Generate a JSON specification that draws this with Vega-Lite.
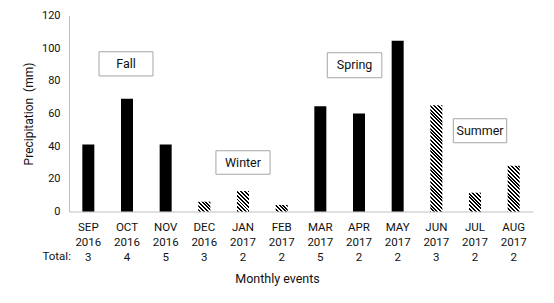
{
  "$schema": "https://vega.github.io/schema/vega-lite/v6.json",
  "width": 464,
  "height": 196,
  "autosize": {"type": "none"},
  "padding": {"left": 69, "top": 15.5, "right": 21, "bottom": 91.5},
  "background": "#ffffff",
  "config": {
    "font": "Roboto",
    "view": {"stroke": null},
    "axis": {"labelColor": "#111111", "titleColor": "#111111", "domainColor": "#bfbfbf", "domainWidth": 1, "grid": false, "ticks": false, "tickSize": 0, "titleFontWeight": "normal"}
  },
  "datasets": {
    "bars": [
      {"cat": "SEP|2016|3", "m": "SEP", "v": 41},
      {"cat": "OCT|2016|4", "m": "OCT", "v": 69},
      {"cat": "NOV|2016|5", "m": "NOV", "v": 41},
      {"cat": "DEC|2016|3", "m": "DEC", "v": 6},
      {"cat": "JAN|2017|2", "m": "JAN", "v": 12.5},
      {"cat": "FEB|2017|2", "m": "FEB", "v": 4},
      {"cat": "MAR|2017|5", "m": "MAR", "v": 64.5},
      {"cat": "APR|2017|2", "m": "APR", "v": 60},
      {"cat": "MAY|2017|2", "m": "MAY", "v": 104.5},
      {"cat": "JUN|2017|3", "m": "JUN", "v": 65},
      {"cat": "JUL|2017|2", "m": "JUL", "v": 11.5},
      {"cat": "AUG|2017|2", "m": "AUG", "v": 28}
    ],
    "boxes": [
      {"label": "Fall", "x1": 0.776, "x2": 2.172, "y1": 83.0, "y2": 97.8, "xc": 1.474, "yc": 90.4},
      {"label": "Winter", "x1": 3.8, "x2": 5.2, "y1": 22.8, "y2": 37.2, "xc": 4.5, "yc": 30.0},
      {"label": "Spring", "x1": 6.68, "x2": 8.09, "y1": 81.9, "y2": 97.2, "xc": 7.385, "yc": 89.55},
      {"label": "Summer", "x1": 9.94, "x2": 11.32, "y1": 42.1, "y2": 56.8, "xc": 10.63, "yc": 49.45}
    ],
    "totals": [{"t": "Total:"}]
  },
  "resolve": {"scale": {"x": "independent"}},
  "layer": [
    {
      "data": {"name": "bars"},
      "mark": {"type": "bar", "width": 12},
      "encoding": {
        "x": {
          "field": "cat", "type": "nominal", "sort": null,
          "axis": {"title": "Monthly events", "labelExpr": "split(datum.value, '|')", "labelAngle": 0, "labelLineHeight": 15, "labelFontSize": 11.5, "labelPadding": 10, "labelOverlap": false, "labelBound": false, "titleFontSize": 12.5, "titleX": 208, "titleY": 67, "titleBaseline": "middle", "titleAlign": "center"}
        },
        "y": {
          "field": "v", "type": "quantitative",
          "scale": {"domain": [0, 120], "nice": false},
          "axis": {"title": "Precipitation\u00a0 (mm)", "values": [0, 20, 40, 60, 80, 100, 120], "labelOverlap": false, "labelFontSize": 11, "labelPadding": 9, "titleFontSize": 12, "titlePadding": 6}
        },
        "fill": {
          "condition": [
            {"test": "datum.m === 'DEC'", "value": {"gradient": "linear", "x1": 1, "y1": 0, "x2": -0.8997, "y2": 1.5514, "stops": [{"offset":0,"color":"#000"},{"offset":0.05,"color":"#000"},{"offset":0.05,"color":"#fff"},{"offset":0.1,"color":"#fff"},{"offset":0.1,"color":"#000"},{"offset":0.15,"color":"#000"},{"offset":0.15,"color":"#fff"},{"offset":0.2,"color":"#fff"},{"offset":0.2,"color":"#000"},{"offset":0.25,"color":"#000"},{"offset":0.25,"color":"#fff"},{"offset":0.3,"color":"#fff"},{"offset":0.3,"color":"#000"},{"offset":0.35,"color":"#000"},{"offset":0.35,"color":"#fff"},{"offset":0.4,"color":"#fff"},{"offset":0.4,"color":"#000"},{"offset":0.45,"color":"#000"},{"offset":0.45,"color":"#fff"},{"offset":0.5,"color":"#fff"},{"offset":0.5,"color":"#000"},{"offset":0.55,"color":"#000"},{"offset":0.55,"color":"#fff"},{"offset":0.6,"color":"#fff"},{"offset":0.6,"color":"#000"},{"offset":0.65,"color":"#000"},{"offset":0.65,"color":"#fff"},{"offset":0.7,"color":"#fff"}]}},
            {"test": "datum.m === 'JAN'", "value": {"gradient": "linear", "x1": 1, "y1": 0, "x2": 0.18594, "y2": 1.3839, "stops": [{"offset":0,"color":"#000"},{"offset":0.05,"color":"#000"},{"offset":0.05,"color":"#fff"},{"offset":0.1,"color":"#fff"},{"offset":0.1,"color":"#000"},{"offset":0.15,"color":"#000"},{"offset":0.15,"color":"#fff"},{"offset":0.2,"color":"#fff"},{"offset":0.2,"color":"#000"},{"offset":0.25,"color":"#000"},{"offset":0.25,"color":"#fff"},{"offset":0.3,"color":"#fff"},{"offset":0.3,"color":"#000"},{"offset":0.35,"color":"#000"},{"offset":0.35,"color":"#fff"},{"offset":0.4,"color":"#fff"},{"offset":0.4,"color":"#000"},{"offset":0.45,"color":"#000"},{"offset":0.45,"color":"#fff"},{"offset":0.5,"color":"#fff"},{"offset":0.5,"color":"#000"},{"offset":0.55,"color":"#000"},{"offset":0.55,"color":"#fff"},{"offset":0.6,"color":"#fff"},{"offset":0.6,"color":"#000"},{"offset":0.65,"color":"#000"},{"offset":0.65,"color":"#fff"},{"offset":0.7,"color":"#fff"},{"offset":0.7,"color":"#000"},{"offset":0.75,"color":"#000"},{"offset":0.75,"color":"#fff"},{"offset":0.8,"color":"#fff"},{"offset":0.8,"color":"#000"},{"offset":0.85,"color":"#000"},{"offset":0.85,"color":"#fff"},{"offset":0.9,"color":"#fff"},{"offset":0.9,"color":"#000"},{"offset":0.95,"color":"#000"},{"offset":0.95,"color":"#fff"},{"offset":1,"color":"#fff"}]}},
            {"test": "datum.m === 'FEB'", "value": {"gradient": "linear", "x1": 1, "y1": 0, "x2": -1.44832, "y2": 1.32617, "stops": [{"offset":0,"color":"#000"},{"offset":0.05,"color":"#000"},{"offset":0.05,"color":"#fff"},{"offset":0.1,"color":"#fff"},{"offset":0.1,"color":"#000"},{"offset":0.15,"color":"#000"},{"offset":0.15,"color":"#fff"},{"offset":0.2,"color":"#fff"},{"offset":0.2,"color":"#000"},{"offset":0.25,"color":"#000"},{"offset":0.25,"color":"#fff"},{"offset":0.3,"color":"#fff"},{"offset":0.3,"color":"#000"},{"offset":0.35,"color":"#000"},{"offset":0.35,"color":"#fff"},{"offset":0.4,"color":"#fff"},{"offset":0.4,"color":"#000"},{"offset":0.45,"color":"#000"},{"offset":0.45,"color":"#fff"},{"offset":0.5,"color":"#fff"},{"offset":0.5,"color":"#000"},{"offset":0.55,"color":"#000"},{"offset":0.55,"color":"#fff"},{"offset":0.6,"color":"#fff"}]}},
            {"test": "datum.m === 'JUL'", "value": {"gradient": "linear", "x1": 1, "y1": 0, "x2": 0.08331, "y2": 1.43615, "stops": [{"offset":0,"color":"#000"},{"offset":0.05,"color":"#000"},{"offset":0.05,"color":"#fff"},{"offset":0.1,"color":"#fff"},{"offset":0.1,"color":"#000"},{"offset":0.15,"color":"#000"},{"offset":0.15,"color":"#fff"},{"offset":0.2,"color":"#fff"},{"offset":0.2,"color":"#000"},{"offset":0.25,"color":"#000"},{"offset":0.25,"color":"#fff"},{"offset":0.3,"color":"#fff"},{"offset":0.3,"color":"#000"},{"offset":0.35,"color":"#000"},{"offset":0.35,"color":"#fff"},{"offset":0.4,"color":"#fff"},{"offset":0.4,"color":"#000"},{"offset":0.45,"color":"#000"},{"offset":0.45,"color":"#fff"},{"offset":0.5,"color":"#fff"},{"offset":0.5,"color":"#000"},{"offset":0.55,"color":"#000"},{"offset":0.55,"color":"#fff"},{"offset":0.6,"color":"#fff"},{"offset":0.6,"color":"#000"},{"offset":0.65,"color":"#000"},{"offset":0.65,"color":"#fff"},{"offset":0.7,"color":"#fff"},{"offset":0.7,"color":"#000"},{"offset":0.75,"color":"#000"},{"offset":0.75,"color":"#fff"},{"offset":0.8,"color":"#fff"},{"offset":0.8,"color":"#000"},{"offset":0.85,"color":"#000"},{"offset":0.85,"color":"#fff"},{"offset":0.9,"color":"#fff"}]}},
            {"test": "datum.m === 'AUG'", "value": {"gradient": "linear", "x1": 1, "y1": 0, "x2": 0.59149, "y2": 1.55575, "stops": [{"offset":0,"color":"#000"},{"offset":0.025,"color":"#000"},{"offset":0.025,"color":"#fff"},{"offset":0.05,"color":"#fff"},{"offset":0.05,"color":"#000"},{"offset":0.075,"color":"#000"},{"offset":0.075,"color":"#fff"},{"offset":0.1,"color":"#fff"},{"offset":0.1,"color":"#000"},{"offset":0.125,"color":"#000"},{"offset":0.125,"color":"#fff"},{"offset":0.15,"color":"#fff"},{"offset":0.15,"color":"#000"},{"offset":0.175,"color":"#000"},{"offset":0.175,"color":"#fff"},{"offset":0.2,"color":"#fff"},{"offset":0.2,"color":"#000"},{"offset":0.225,"color":"#000"},{"offset":0.225,"color":"#fff"},{"offset":0.25,"color":"#fff"},{"offset":0.25,"color":"#000"},{"offset":0.275,"color":"#000"},{"offset":0.275,"color":"#fff"},{"offset":0.3,"color":"#fff"},{"offset":0.3,"color":"#000"},{"offset":0.325,"color":"#000"},{"offset":0.325,"color":"#fff"},{"offset":0.35,"color":"#fff"},{"offset":0.35,"color":"#000"},{"offset":0.375,"color":"#000"},{"offset":0.375,"color":"#fff"},{"offset":0.4,"color":"#fff"},{"offset":0.4,"color":"#000"},{"offset":0.425,"color":"#000"},{"offset":0.425,"color":"#fff"},{"offset":0.45,"color":"#fff"},{"offset":0.45,"color":"#000"},{"offset":0.475,"color":"#000"},{"offset":0.475,"color":"#fff"},{"offset":0.5,"color":"#fff"},{"offset":0.5,"color":"#000"},{"offset":0.525,"color":"#000"},{"offset":0.525,"color":"#fff"},{"offset":0.55,"color":"#fff"},{"offset":0.55,"color":"#000"},{"offset":0.575,"color":"#000"},{"offset":0.575,"color":"#fff"},{"offset":0.6,"color":"#fff"},{"offset":0.6,"color":"#000"},{"offset":0.625,"color":"#000"},{"offset":0.625,"color":"#fff"},{"offset":0.65,"color":"#fff"},{"offset":0.65,"color":"#000"},{"offset":0.675,"color":"#000"},{"offset":0.675,"color":"#fff"},{"offset":0.7,"color":"#fff"},{"offset":0.7,"color":"#000"},{"offset":0.725,"color":"#000"},{"offset":0.725,"color":"#fff"},{"offset":0.75,"color":"#fff"},{"offset":0.75,"color":"#000"},{"offset":0.775,"color":"#000"},{"offset":0.775,"color":"#fff"},{"offset":0.8,"color":"#fff"}]}},
            {"test": "datum.m === 'JUN'", "value": {"gradient": "linear", "x1": 1, "y1": 0, "x2": 0.84031, "y2": 1.41322, "stops": [{"offset":0,"color":"#000"},{"offset":0.0125,"color":"#000"},{"offset":0.0125,"color":"#fff"},{"offset":0.025,"color":"#fff"},{"offset":0.025,"color":"#000"},{"offset":0.0375,"color":"#000"},{"offset":0.0375,"color":"#fff"},{"offset":0.05,"color":"#fff"},{"offset":0.05,"color":"#000"},{"offset":0.0625,"color":"#000"},{"offset":0.0625,"color":"#fff"},{"offset":0.075,"color":"#fff"},{"offset":0.075,"color":"#000"},{"offset":0.0875,"color":"#000"},{"offset":0.0875,"color":"#fff"},{"offset":0.1,"color":"#fff"},{"offset":0.1,"color":"#000"},{"offset":0.1125,"color":"#000"},{"offset":0.1125,"color":"#fff"},{"offset":0.125,"color":"#fff"},{"offset":0.125,"color":"#000"},{"offset":0.1375,"color":"#000"},{"offset":0.1375,"color":"#fff"},{"offset":0.15,"color":"#fff"},{"offset":0.15,"color":"#000"},{"offset":0.1625,"color":"#000"},{"offset":0.1625,"color":"#fff"},{"offset":0.175,"color":"#fff"},{"offset":0.175,"color":"#000"},{"offset":0.1875,"color":"#000"},{"offset":0.1875,"color":"#fff"},{"offset":0.2,"color":"#fff"},{"offset":0.2,"color":"#000"},{"offset":0.2125,"color":"#000"},{"offset":0.2125,"color":"#fff"},{"offset":0.225,"color":"#fff"},{"offset":0.225,"color":"#000"},{"offset":0.2375,"color":"#000"},{"offset":0.2375,"color":"#fff"},{"offset":0.25,"color":"#fff"},{"offset":0.25,"color":"#000"},{"offset":0.2625,"color":"#000"},{"offset":0.2625,"color":"#fff"},{"offset":0.275,"color":"#fff"},{"offset":0.275,"color":"#000"},{"offset":0.2875,"color":"#000"},{"offset":0.2875,"color":"#fff"},{"offset":0.3,"color":"#fff"},{"offset":0.3,"color":"#000"},{"offset":0.3125,"color":"#000"},{"offset":0.3125,"color":"#fff"},{"offset":0.325,"color":"#fff"},{"offset":0.325,"color":"#000"},{"offset":0.3375,"color":"#000"},{"offset":0.3375,"color":"#fff"},{"offset":0.35,"color":"#fff"},{"offset":0.35,"color":"#000"},{"offset":0.3625,"color":"#000"},{"offset":0.3625,"color":"#fff"},{"offset":0.375,"color":"#fff"},{"offset":0.375,"color":"#000"},{"offset":0.3875,"color":"#000"},{"offset":0.3875,"color":"#fff"},{"offset":0.4,"color":"#fff"},{"offset":0.4,"color":"#000"},{"offset":0.4125,"color":"#000"},{"offset":0.4125,"color":"#fff"},{"offset":0.425,"color":"#fff"},{"offset":0.425,"color":"#000"},{"offset":0.4375,"color":"#000"},{"offset":0.4375,"color":"#fff"},{"offset":0.45,"color":"#fff"},{"offset":0.45,"color":"#000"},{"offset":0.4625,"color":"#000"},{"offset":0.4625,"color":"#fff"},{"offset":0.475,"color":"#fff"},{"offset":0.475,"color":"#000"},{"offset":0.4875,"color":"#000"},{"offset":0.4875,"color":"#fff"},{"offset":0.5,"color":"#fff"},{"offset":0.5,"color":"#000"},{"offset":0.5125,"color":"#000"},{"offset":0.5125,"color":"#fff"},{"offset":0.525,"color":"#fff"},{"offset":0.525,"color":"#000"},{"offset":0.5375,"color":"#000"},{"offset":0.5375,"color":"#fff"},{"offset":0.55,"color":"#fff"},{"offset":0.55,"color":"#000"},{"offset":0.5625,"color":"#000"},{"offset":0.5625,"color":"#fff"},{"offset":0.575,"color":"#fff"},{"offset":0.575,"color":"#000"},{"offset":0.5875,"color":"#000"},{"offset":0.5875,"color":"#fff"},{"offset":0.6,"color":"#fff"},{"offset":0.6,"color":"#000"},{"offset":0.6125,"color":"#000"},{"offset":0.6125,"color":"#fff"},{"offset":0.625,"color":"#fff"},{"offset":0.625,"color":"#000"},{"offset":0.6375,"color":"#000"},{"offset":0.6375,"color":"#fff"},{"offset":0.65,"color":"#fff"},{"offset":0.65,"color":"#000"},{"offset":0.6625,"color":"#000"},{"offset":0.6625,"color":"#fff"},{"offset":0.675,"color":"#fff"},{"offset":0.675,"color":"#000"},{"offset":0.6875,"color":"#000"},{"offset":0.6875,"color":"#fff"},{"offset":0.7,"color":"#fff"},{"offset":0.7,"color":"#000"},{"offset":0.7125,"color":"#000"},{"offset":0.7125,"color":"#fff"},{"offset":0.725,"color":"#fff"},{"offset":0.725,"color":"#000"},{"offset":0.7375,"color":"#000"},{"offset":0.7375,"color":"#fff"},{"offset":0.75,"color":"#fff"},{"offset":0.75,"color":"#000"},{"offset":0.7625,"color":"#000"},{"offset":0.7625,"color":"#fff"},{"offset":0.775,"color":"#fff"},{"offset":0.775,"color":"#000"},{"offset":0.7875,"color":"#000"},{"offset":0.7875,"color":"#fff"},{"offset":0.8,"color":"#fff"}]}}
          ],
          "value": "#000000"
        }
      }
    },
    {
      "data": {"name": "boxes"},
      "mark": {"type": "rect", "fill": "#ffffff", "stroke": "#a6a6a6", "strokeWidth": 1},
      "encoding": {
        "x": {"field": "x1", "type": "quantitative", "scale": {"domain": [0, 12], "nice": false, "zero": false}, "axis": null},
        "x2": {"field": "x2"},
        "y": {"field": "y1", "type": "quantitative", "scale": {"domain": [0, 120], "nice": false}, "axis": {"title": "Precipitation\u00a0 (mm)", "values": [0, 20, 40, 60, 80, 100, 120], "labelOverlap": false, "labelFontSize": 11, "labelPadding": 9, "titleFontSize": 12, "titlePadding": 6}},
        "y2": {"field": "y2"}
      }
    },
    {
      "data": {"name": "boxes"},
      "mark": {"type": "text", "fontSize": 12.5, "color": "#111111", "align": "center", "baseline": "middle"},
      "encoding": {
        "x": {"field": "xc", "type": "quantitative", "scale": {"domain": [0, 12], "nice": false, "zero": false}, "axis": null},
        "y": {"field": "yc", "type": "quantitative", "scale": {"domain": [0, 120], "nice": false}, "axis": {"title": "Precipitation\u00a0 (mm)", "values": [0, 20, 40, 60, 80, 100, 120], "labelOverlap": false, "labelFontSize": 11, "labelPadding": 9, "titleFontSize": 12, "titlePadding": 6}},
        "text": {"field": "label"}
      }
    },
    {
      "data": {"name": "totals"},
      "mark": {"type": "text", "fontSize": 11.5, "color": "#111111", "align": "right", "baseline": "middle", "clip": false},
      "encoding": {
        "x": {"datum": 0.05, "type": "quantitative", "scale": {"domain": [0, 12], "nice": false, "zero": false}, "axis": null},
        "y": {"datum": -28, "type": "quantitative", "scale": {"domain": [0, 120], "nice": false}, "axis": {"title": "Precipitation\u00a0 (mm)", "values": [0, 20, 40, 60, 80, 100, 120], "labelOverlap": false, "labelFontSize": 11, "labelPadding": 9, "titleFontSize": 12, "titlePadding": 6}},
        "text": {"field": "t"}
      }
    }
  ]
}
